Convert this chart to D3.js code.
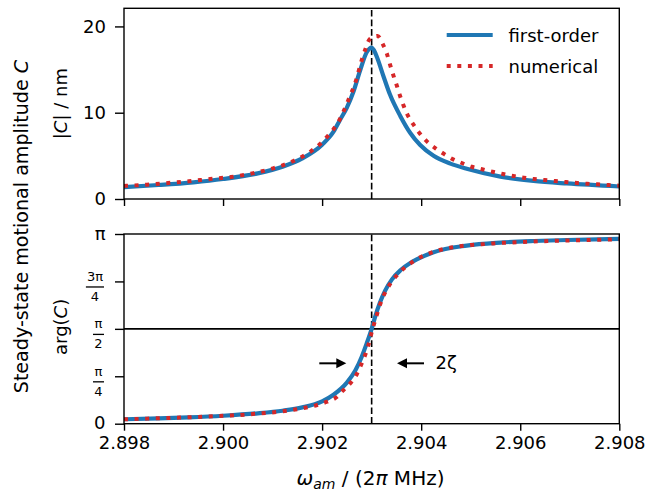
<!DOCTYPE html>
<html><head><meta charset="utf-8">
<script src="https://cdn.jsdelivr.net/npm/d3@7"></script>
<style>
body{margin:0;background:#fff}
svg{display:block}
text{font-family:"DejaVu Sans",sans-serif;fill:#000}
</style>
</head><body>
<svg id="c" width="659" height="491"></svg>
<script>
// ---------- data ----------
const xDomain = [2.898, 2.908];
const xTicks = [2.898, 2.900, 2.902, 2.904, 2.906, 2.908];
const ampDomain = [0, 22.1];
const ampTicks = [0, 10, 20];
const phaseTicks = [0, Math.PI/4, Math.PI/2, 3*Math.PI/4, Math.PI];
const phaseTickLabels = [["0"], ["π","4"], ["π","2"], ["3π","4"], ["π"]];
const omega0 = 2.903;
const zeta = 0.000512;
const arrowTail = 0.000545;
const arrowPhase = 1.0;

const firstOrderAmpX = [2.8980, 2.8987, 2.8994, 2.9000, 2.9007, 2.9012, 2.9016, 2.9020, 2.90223, 2.90236, 2.9025, 2.90263, 2.90277, 2.9029, 2.9030, 2.90305, 2.90311, 2.90324, 2.90337, 2.90358, 2.90378, 2.90398, 2.90425, 2.90459, 2.90492, 2.9056, 2.90627, 2.90694, 2.9080];
const firstOrderAmp  = [1.38, 1.62, 1.93, 2.32, 2.97, 3.74, 4.71, 6.3, 7.8, 9.15, 10.6, 12.4, 14.95, 17.0, 17.55, 17.2, 16.4, 14.2, 12.1, 9.6, 7.65, 6.25, 5.0, 4.1, 3.5, 2.6, 2.1, 1.8, 1.45];

const numericalAmpX = [2.8980, 2.89846, 2.89889, 2.89931, 2.89974, 2.90016, 2.90059, 2.90101, 2.90142, 2.90178, 2.90196, 2.90209, 2.90235, 2.90253, 2.90268, 2.9028, 2.90287, 2.90296, 2.90312, 2.90323, 2.90331, 2.90337, 2.90344, 2.90351, 2.90357, 2.90364, 2.90372, 2.90384, 2.90395, 2.9041, 2.90427, 2.90444, 2.90462, 2.90482, 2.90502, 2.90523, 2.90544, 2.90565, 2.90586, 2.90607, 2.90627, 2.90649, 2.90671, 2.90692, 2.90715, 2.90735, 2.90756, 2.90778, 2.9080];
const numericalAmp  = [1.52, 1.66, 1.85, 2.05, 2.32, 2.55, 2.97, 3.55, 4.4, 5.56, 6.37, 7.15, 9.15, 11.47, 13.67, 16.1, 17.3, 18.5, 18.9, 17.9, 16.8, 15.6, 14.3, 13.1, 12.0, 10.9, 9.8, 8.66, 7.75, 6.76, 5.95, 5.3, 4.67, 4.17, 3.74, 3.44, 3.16, 2.9, 2.67, 2.47, 2.32, 2.2, 2.08, 1.97, 1.85, 1.77, 1.7, 1.62, 1.54];

const firstOrderPhaseX = [2.8980, 2.8987, 2.8993, 2.9000, 2.9007, 2.9012, 2.9016, 2.9020, 2.90223, 2.9025, 2.90267, 2.9028, 2.9029, 2.9030, 2.90307, 2.90317, 2.90327, 2.90341, 2.90358, 2.90378, 2.90391, 2.90425, 2.90492, 2.9056, 2.90627, 2.90694, 2.9080];
const firstOrderPhase  = [0.073, 0.088, 0.105, 0.132, 0.172, 0.215, 0.27, 0.37, 0.48, 0.68, 0.88, 1.11, 1.33, 1.571, 1.77, 2.01, 2.2, 2.39, 2.54, 2.66, 2.72, 2.84, 2.95, 3.0, 3.026, 3.042, 3.06];

const numericalPhaseX = [2.8980, 2.8989, 2.8997, 2.9006, 2.9012, 2.9016, 2.9019, 2.9021, 2.9023, 2.90241, 2.90257, 2.9027, 2.90279, 2.90287, 2.90293, 2.90297, 2.90303, 2.9031, 2.90316, 2.90323, 2.90331, 2.9034, 2.9035, 2.90362, 2.90379, 2.9039, 2.9041, 2.9043, 2.9045, 2.9047, 2.9050, 2.9053, 2.9055, 2.9058, 2.9062, 2.9066, 2.9072, 2.9078, 2.9080];
const numericalPhase  = [0.073, 0.095, 0.118, 0.16, 0.205, 0.255, 0.31, 0.365, 0.445, 0.54, 0.67, 0.82, 0.98, 1.14, 1.29, 1.42, 1.6, 1.79, 1.95, 2.1, 2.23, 2.35, 2.45, 2.55, 2.66, 2.72, 2.8, 2.86, 2.9, 2.93, 2.96, 2.975, 2.99, 3.0, 3.015, 3.026, 3.04, 3.05, 3.055];

const seriesNames = ["first-order", "numerical"];
const colors = {"first-order": "#1f77b4", "numerical": "#d62728"};

// ---------- layout ----------
const svg = d3.select("#c");
const L = 124, R = 619.3;
const topBox = {t: 8.3, b: 199};
const botBox = {t: 234, b: 423.7};
const FS = 18;

const x = d3.scaleLinear().domain(xDomain).range([L, R]);
const yA = d3.scaleLinear().domain(ampDomain).range([topBox.b, topBox.t]);
const yP = d3.scaleLinear().domain([0, Math.PI]).range([botBox.b, botBox.t]);

const defs = svg.append("defs");
[["clipTop", topBox], ["clipBot", botBox]].forEach(([id, b]) => {
  defs.append("clipPath").attr("id", id).append("rect")
    .attr("x", L).attr("y", b.t).attr("width", R - L).attr("height", b.b - b.t);
});

const zip = (xs, ys) => xs.map((v, i) => [v, ys[i]]);
const lineA = d3.line().x(d => x(d[0])).y(d => yA(d[1])).curve(d3.curveMonotoneX);
const lineP = d3.line().x(d => x(d[0])).y(d => yP(d[1])).curve(d3.curveMonotoneX);

function drawSeries(g, gen, data, name) {
  const p = g.append("path").attr("d", gen(data)).attr("fill", "none")
    .attr("stroke", colors[name]);
  if (name === "first-order") p.attr("stroke-width", 4.2).attr("stroke-linejoin", "round").attr("stroke-linecap", "butt");
  else p.attr("stroke-width", 4).attr("stroke-dasharray", "4,6.6").attr("stroke-linecap", "butt");
}

// ----- top panel -----
const gTop = svg.append("g").attr("clip-path", "url(#clipTop)");
gTop.append("line").attr("x1", x(omega0)).attr("x2", x(omega0))
  .attr("y1", topBox.b).attr("y2", topBox.t)
  .attr("stroke", "#000").attr("stroke-width", 1.6).attr("stroke-dasharray", "6.7,2.9");
drawSeries(gTop, lineA, zip(firstOrderAmpX, firstOrderAmp), "first-order");
drawSeries(gTop, lineA, zip(numericalAmpX, numericalAmp), "numerical");

// ----- bottom panel -----
const gBot = svg.append("g").attr("clip-path", "url(#clipBot)");
gBot.append("line").attr("x1", L).attr("x2", R)
  .attr("y1", yP(Math.PI/2)).attr("y2", yP(Math.PI/2))
  .attr("stroke", "#000").attr("stroke-width", 1.6);
gBot.append("line").attr("x1", x(omega0)).attr("x2", x(omega0))
  .attr("y1", botBox.b).attr("y2", botBox.t)
  .attr("stroke", "#000").attr("stroke-width", 1.6).attr("stroke-dasharray", "6.7,2.9");
drawSeries(gBot, lineP, zip(firstOrderPhaseX, firstOrderPhase), "first-order");
drawSeries(gBot, lineP, zip(numericalPhaseX, numericalPhase), "numerical");

// arrows marking 2 zeta
function arrow(tipX, tailX, yv) {
  const ty = yP(yv), tx = x(tipX), sx = x(tailX);
  const dir = Math.sign(tx - sx), hl = 10, hw = 5;
  svg.append("line").attr("x1", sx).attr("x2", tx - dir*hl*0.8).attr("y1", ty).attr("y2", ty)
    .attr("stroke", "#000").attr("stroke-width", 2);
  svg.append("path").attr("d", `M${tx},${ty} L${tx - dir*hl},${ty - hw} L${tx - dir*hl},${ty + hw} Z`)
    .attr("fill", "#000");
}
arrow(omega0 - zeta, omega0 - zeta - arrowTail, arrowPhase);
arrow(omega0 + zeta, omega0 + zeta + arrowTail, arrowPhase);
svg.append("text").attr("x", x(omega0 + zeta + arrowTail) + 11.5).attr("y", yP(arrowPhase) + 6)
  .attr("font-size", FS).text("2ζ");

// ----- axes -----
function styleAxis(g) {
  g.selectAll(".domain").remove();
  g.selectAll(".tick line").attr("stroke", "#000").attr("stroke-width", 1.4);
  g.selectAll(".tick text").attr("font-size", FS).attr("font-family", "DejaVu Sans").attr("fill", "#000");
}
[topBox, botBox].forEach(b => {
  svg.append("rect").attr("x", L).attr("y", b.t).attr("width", R - L).attr("height", b.b - b.t)
    .attr("fill", "none").attr("stroke", "#000").attr("stroke-width", 1.4);
});
svg.append("g").attr("transform", `translate(0,${topBox.b})`)
  .call(d3.axisBottom(x).tickValues(xTicks).tickSize(7).tickFormat(""))
  .call(styleAxis);
svg.append("g").attr("transform", `translate(0,${botBox.b})`)
  .call(d3.axisBottom(x).tickValues(xTicks).tickSize(7).tickPadding(5.5).tickFormat(d3.format(".3f")))
  .call(styleAxis);
svg.append("g").attr("transform", `translate(${L},0)`)
  .call(d3.axisLeft(yA).tickValues(ampTicks).tickSize(9).tickPadding(9).tickFormat(d3.format("d")))
  .call(styleAxis);
svg.append("g").attr("transform", `translate(${L},0)`)
  .call(d3.axisLeft(yP).tickValues(phaseTicks).tickSize(9).tickFormat(""))
  .call(styleAxis);
const labRight = 104;
phaseTicks.forEach((v, i) => {
  const lab = phaseTickLabels[i], ty = yP(v);
  if (lab.length === 1) {
    svg.append("text").attr("x", labRight + 1.5).attr("y", ty).attr("dy", "0.32em")
      .attr("text-anchor", "end").attr("font-size", FS).text(lab[0]);
  } else {
    const g = svg.append("g");
    const num = g.append("text").attr("font-size", 13).attr("text-anchor", "middle").text(lab[0]);
    const w = Math.max(num.node().getComputedTextLength(), 9) + 2;
    const cx = labRight - w/2;
    num.attr("x", cx).attr("y", ty - 0.5);
    g.append("rect").attr("x", cx - w/2).attr("y", ty + 4.9).attr("width", w).attr("height", 1.3).attr("fill", "#000");
    g.append("text").attr("font-size", 13).attr("text-anchor", "middle").attr("x", cx).attr("y", ty + 19.3).text(lab[1]);
  }
});

// ----- labels -----
const yl1 = svg.append("text").attr("transform", `translate(67,${(topBox.t+topBox.b)/2}) rotate(-90)`)
  .attr("text-anchor", "middle").attr("font-size", FS);
yl1.append("tspan").text("|");
yl1.append("tspan").attr("font-style", "italic").text("C");
yl1.append("tspan").text("| / nm");

const yl2 = svg.append("text").attr("transform", `translate(67,${(botBox.t+botBox.b)/2 - 2}) rotate(-90)`)
  .attr("text-anchor", "middle").attr("font-size", FS);
yl2.append("tspan").text("arg(");
yl2.append("tspan").attr("font-style", "italic").text("C");
yl2.append("tspan").text(")");

const sl = svg.append("text").attr("transform", `translate(28,226.6) rotate(-90)`)
  .attr("text-anchor", "middle").attr("font-size", 19.1);
sl.append("tspan").text("Steady-state motional amplitude ");
sl.append("tspan").attr("font-style", "italic").text("C");

const xl = svg.append("text").attr("x", 370.5).attr("y", 485)
  .attr("text-anchor", "middle").attr("font-size", 20);
xl.append("tspan").attr("font-style", "italic").text("ω");
xl.append("tspan").attr("font-style", "italic").attr("font-size", 14).attr("dy", 4).text("am");
xl.append("tspan").attr("dy", -4).text(" / (2");
xl.append("tspan").attr("font-style", "italic").text("π");
xl.append("tspan").text(" MHz)");

// ----- legend -----
const leg = svg.append("g");
seriesNames.forEach((name, i) => {
  const ly = 35 + i*31;
  const ln = leg.append("line").attr("x1", 446.7).attr("x2", 492.7).attr("y1", ly).attr("y2", ly)
    .attr("stroke", colors[name]);
  if (name === "first-order") ln.attr("stroke-width", 4.2);
  else ln.attr("stroke-width", 4).attr("stroke-dasharray", "4,6.6");
  leg.append("text").attr("x", 508.5).attr("y", ly + 7).attr("font-size", FS).text(name);
});
</script>
</body></html>
